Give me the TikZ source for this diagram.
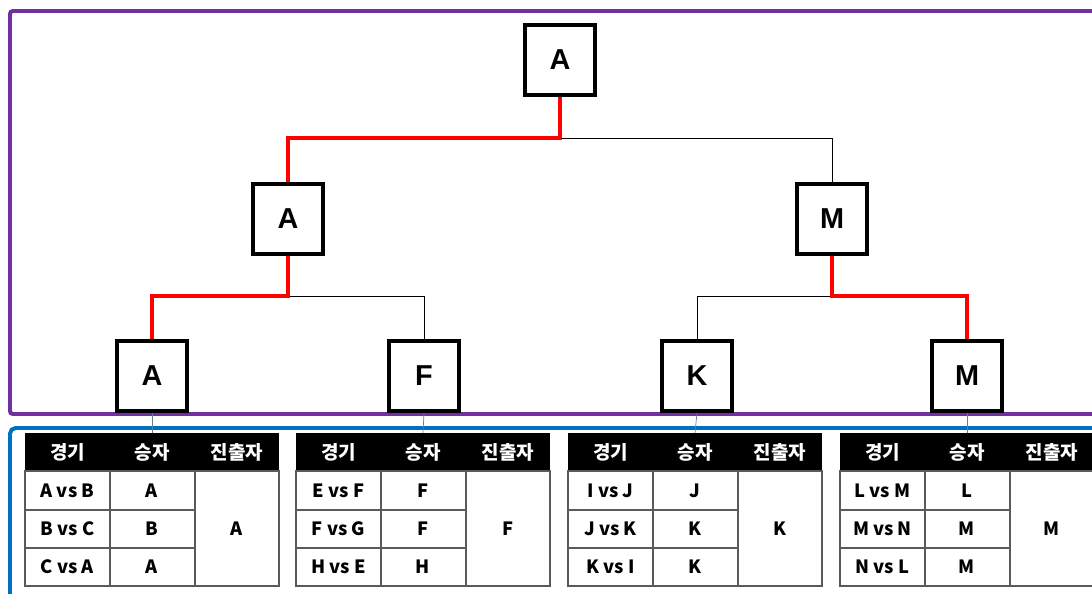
\documentclass[tikz,border=0pt]{standalone}
\usepackage{fontspec}
\setmainfont{Liberation Sans}
\newfontfamily\krfont{Noto Sans CJK KR}
\usetikzlibrary{positioning,calc}

\definecolor{framepurple}{HTML}{7030A0}
\definecolor{frameblue}{HTML}{0070C0}
\definecolor{linkblue}{HTML}{5F7F9F}
\definecolor{rulegray}{HTML}{5A5A5A}

\tikzset{
	playerbox/.style={draw=black,line width=2.5pt,fill=white,minimum size=1.75cm,inner sep=0pt,font=\fontsize{20.5}{22}\selectfont\bfseries},
	winline/.style={draw=red,line width=2.4pt},
	loseline/.style={draw=black,line width=0.6pt},
	tablink/.style={draw=linkblue,line width=0.5pt},
	cellrule/.style={draw=rulegray,line width=1.1pt},
	headtext/.style={text=white,font=\krfont\fontsize{13.5}{15}\selectfont\bfseries},
	celltext/.style={text=black,font=\krfont\fontsize{13}{15}\selectfont\bfseries}
}

\begin{document}
\begin{tikzpicture}[x=0.025cm,y=-0.025cm]
		\useasboundingbox (0,0) rectangle (1092,593);
		\clip (0,0) rectangle (1092,593);
		
		% frames
		\draw[framepurple,line width=2.8pt,rounded corners=2pt] (1110,11) -- (10,11) -- (10,414) -- (1110,414);
		\draw[frameblue,line width=2.8pt,rounded corners=4pt] (1110,428) -- (10,428) -- (10,610);
		
		% bracket
		\node[playerbox] (fin) at (560,60) {A};
		\node[playerbox] (semiA) at (288,219) {A};
		\node[playerbox] (semiM) at (832,219) {M};
		\node[playerbox] (qA) at (152,376) {A};
		\node[playerbox] (qF) at (424,376) {F};
		\node[playerbox] (qK) at (697,376) {K};
		\node[playerbox] (qM) at (967,376) {M};
		
		\coordinate (jTop) at (560,138);
		\coordinate (jA) at (288,296);
		\coordinate (jM) at (832,296);
		
		\draw[loseline] (jTop) -| (semiM.north);
		\draw[loseline] (jA) -| (qF.north);
		\draw[loseline] (jM) -| (qK.north);
		\draw[winline] (fin.south) -- (jTop) -| (semiA.north);
		\draw[winline] (semiA.south) -- (jA) -| (qA.north);
		\draw[winline] (semiM.south) -- (jM) -| (qM.north);
		
		% group tables
		\foreach \tx/\tn/\ga/\wa/\gb/\wb/\gc/\wc/\fin in {25/1/A vs B/A/B vs C/B/C vs A/A/A, 296/2/E vs F/F/F vs G/F/H vs E/H/F, 568/3/I vs J/J/J vs K/K/K vs I/K/K, 840/4/L vs M/L/M vs N/M/N vs L/M/M}{
			\fill[black] (\tx,433) rectangle ++(254,38);
			\node[headtext] at (\tx+42.5,452) {경기};
			\node[headtext] at (\tx+127,452) {승자};
			\node[headtext] at (\tx+212,452) {진출자};
			\draw[cellrule] (\tx,471) rectangle ++(254,115);
			\draw[cellrule] (\tx+85,471) -- ++(0,115);
			\draw[cellrule] (\tx+170,471) -- ++(0,115);
			\draw[cellrule] (\tx,510) -- ++(170,0);
			\draw[cellrule] (\tx,548) -- ++(170,0);
			\node[celltext] at (\tx+42.5,491) {\ga};
			\node[celltext] at (\tx+127,491) {\wa};
			\node[celltext] at (\tx+42.5,529) {\gb};
			\node[celltext] at (\tx+127,529) {\wb};
			\node[celltext] at (\tx+42.5,567) {\gc};
			\node[celltext] at (\tx+127,567) {\wc};
			\node[celltext] at (\tx+212,529) {\fin};
			\coordinate (top\tn) at (\tx+127,433);
		}
		
		\draw[tablink] (qA.south) -- (top1);
		\draw[tablink] (qF.south) -- (top2);
		\draw[tablink] (qK.south) -- (top3);
		\draw[tablink] (qM.south) -- (top4);
\end{tikzpicture}
\end{document}
